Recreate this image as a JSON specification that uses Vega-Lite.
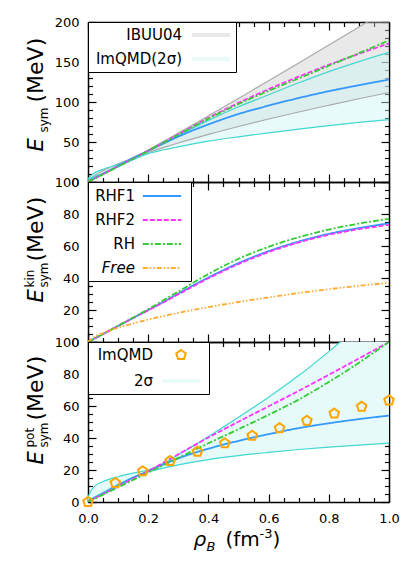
{
"$schema":"https://vega.github.io/schema/vega-lite/v6.json",
"background":"white",
"padding":{"left":23,"top":16,"right":2,"bottom":2},
"spacing":0,
"bounds":"flush",
"config":{
 "view":{"stroke":null},
 "axis":{"grid":false,"labelFont":"DejaVu Sans","labelFontSize":13,"labelColor":"black","titleFont":"DejaVu Sans","titleColor":"black","titleFontWeight":"normal","tickColor":"black","tickWidth":1.2,"domainColor":"black","domainWidth":1.5,"zindex":2,"titleAlign":"left","titleBaseline":"alphabetic","labelFlush":false,"labelOverlap":false,"titlePadding":0},
 "legend":{"orient":"top-left","offset":0,"padding":5,"strokeColor":"black","fillColor":"white","labelFont":"DejaVu Sans","labelFontSize":15,"labelColor":"black","labelAlign":"right","labelLimit":300,"zindex":3}
},
"resolve":{"scale":{"x":"independent","y":"independent","color":"independent","strokeDash":"independent","fill":"independent","shape":"independent","stroke":"independent"}},
"datasets":{
 "gray1":[
  {"rho":0,"lo":0,"hi":0,"band":"IBUU04"},
  {"rho":0.02,"lo":3.6,"hi":7.5,"band":"IBUU04"},
  {"rho":0.05,"lo":9.3,"hi":14.2,"band":"IBUU04"},
  {"rho":0.1,"lo":19.3,"hi":22.9,"band":"IBUU04"},
  {"rho":0.16,"lo":31.6,"hi":31.6,"band":"IBUU04"},
  {"rho":0.2,"lo":36.9,"hi":39.9,"band":"IBUU04"},
  {"rho":0.25,"lo":43.0,"hi":50.5,"band":"IBUU04"},
  {"rho":0.3,"lo":48.8,"hi":61.1,"band":"IBUU04"},
  {"rho":0.35,"lo":54.2,"hi":71.9,"band":"IBUU04"},
  {"rho":0.4,"lo":59.5,"hi":82.7,"band":"IBUU04"},
  {"rho":0.5,"lo":69.4,"hi":104.5,"band":"IBUU04"},
  {"rho":0.6,"lo":78.7,"hi":126.6,"band":"IBUU04"},
  {"rho":0.7,"lo":87.5,"hi":148.8,"band":"IBUU04"},
  {"rho":0.8,"lo":95.9,"hi":171.2,"band":"IBUU04"},
  {"rho":0.9,"lo":104.1,"hi":193.8,"band":"IBUU04"},
  {"rho":1.0,"lo":111.9,"hi":216.5,"band":"IBUU04"}
 ],
 "cyan1":[
  {"rho":0,"lo":3,"hi":4,"band":"ImQMD(2σ)"},
  {"rho":0.01,"lo":5,"hi":8,"band":"ImQMD(2σ)"},
  {"rho":0.02,"lo":6.5,"hi":11,"band":"ImQMD(2σ)"},
  {"rho":0.05,"lo":11,"hi":16,"band":"ImQMD(2σ)"},
  {"rho":0.1,"lo":19,"hi":22,"band":"ImQMD(2σ)"},
  {"rho":0.15,"lo":28,"hi":30.5,"band":"ImQMD(2σ)"},
  {"rho":0.2,"lo":35.5,"hi":39,"band":"ImQMD(2σ)"},
  {"rho":0.25,"lo":40,"hi":48.5,"band":"ImQMD(2σ)"},
  {"rho":0.3,"lo":44,"hi":58,"band":"ImQMD(2σ)"},
  {"rho":0.4,"lo":51,"hi":77,"band":"ImQMD(2σ)"},
  {"rho":0.5,"lo":56.5,"hi":94,"band":"ImQMD(2σ)"},
  {"rho":0.6,"lo":61.5,"hi":109,"band":"ImQMD(2σ)"},
  {"rho":0.7,"lo":66,"hi":124,"band":"ImQMD(2σ)"},
  {"rho":0.8,"lo":70.5,"hi":138,"band":"ImQMD(2σ)"},
  {"rho":0.9,"lo":74.5,"hi":150.5,"band":"ImQMD(2σ)"},
  {"rho":1.0,"lo":78,"hi":162,"band":"ImQMD(2σ)"}
 ],
 "tot":[
  {"rho":0,"RHF1":0.5,"RHF2":0.5,"RH":0.3},
  {"rho":0.02,"RHF1":4.3,"RHF2":4.3,"RH":3.9},
  {"rho":0.05,"RHF1":10.2,"RHF2":10,"RH":9.6},
  {"rho":0.1,"RHF1":20.2,"RHF2":19.8,"RH":19.4},
  {"rho":0.15,"RHF1":30,"RHF2":29.5,"RH":29.1},
  {"rho":0.2,"RHF1":39,"RHF2":39.1,"RH":38.9},
  {"rho":0.25,"RHF1":48,"RHF2":49.2,"RH":49},
  {"rho":0.3,"RHF1":56.8,"RHF2":59.6,"RH":59.1},
  {"rho":0.4,"RHF1":72,"RHF2":80.1,"RH":79.2},
  {"rho":0.5,"RHF1":85,"RHF2":98.9,"RH":97.5},
  {"rho":0.6,"RHF1":95.5,"RHF2":116,"RH":114},
  {"rho":0.7,"RHF1":105,"RHF2":131.7,"RH":129.5},
  {"rho":0.8,"RHF1":113.5,"RHF2":146.5,"RH":145.3},
  {"rho":0.9,"RHF1":121,"RHF2":160.2,"RH":161},
  {"rho":1.0,"RHF1":128,"RHF2":173.2,"RH":177}
 ],
 "kin":[
  {"rho":0,"RHF1":0,"RHF2":0,"RH":0,"Free":0},
  {"rho":0.02,"RHF1":2,"RHF2":2,"RH":2,"Free":3},
  {"rho":0.05,"RHF1":5,"RHF2":5,"RH":5,"Free":5.6},
  {"rho":0.1,"RHF1":10,"RHF2":10,"RH":10.2,"Free":8.9},
  {"rho":0.15,"RHF1":15,"RHF2":15,"RH":15.3,"Free":11.6},
  {"rho":0.2,"RHF1":20,"RHF2":19.8,"RH":20.5,"Free":14},
  {"rho":0.25,"RHF1":25,"RHF2":24.7,"RH":26,"Free":16.2},
  {"rho":0.3,"RHF1":30.3,"RHF2":29.8,"RH":31.5,"Free":18.2},
  {"rho":0.4,"RHF1":40.3,"RHF2":39.8,"RH":42.5,"Free":21.8},
  {"rho":0.5,"RHF1":49.3,"RHF2":48.7,"RH":52,"Free":25},
  {"rho":0.6,"RHF1":56.8,"RHF2":56.2,"RH":59.5,"Free":27.9},
  {"rho":0.7,"RHF1":62.8,"RHF2":62.2,"RH":65.5,"Free":30.6},
  {"rho":0.8,"RHF1":67.6,"RHF2":67,"RH":70.3,"Free":33},
  {"rho":0.9,"RHF1":71.2,"RHF2":70.5,"RH":74,"Free":35.1},
  {"rho":1.0,"RHF1":74.2,"RHF2":73.2,"RH":77,"Free":37}
 ],
 "pot":[
  {"rho":0,"RHF1":0.5,"RHF2":0.5,"RH":0.3},
  {"rho":0.02,"RHF1":2.3,"RHF2":2.3,"RH":1.9},
  {"rho":0.05,"RHF1":5.2,"RHF2":5,"RH":4.6},
  {"rho":0.1,"RHF1":10.3,"RHF2":9.8,"RH":9.2},
  {"rho":0.15,"RHF1":15.2,"RHF2":14.5,"RH":13.8},
  {"rho":0.2,"RHF1":19.3,"RHF2":19.3,"RH":18.4},
  {"rho":0.25,"RHF1":23.5,"RHF2":24.5,"RH":23},
  {"rho":0.3,"RHF1":27.3,"RHF2":29.8,"RH":27.6},
  {"rho":0.4,"RHF1":33.3,"RHF2":40.3,"RH":36.7},
  {"rho":0.5,"RHF1":38.2,"RHF2":50.2,"RH":45.5},
  {"rho":0.6,"RHF1":42.4,"RHF2":59.8,"RH":54.5},
  {"rho":0.7,"RHF1":46.2,"RHF2":69.5,"RH":64},
  {"rho":0.8,"RHF1":49.2,"RHF2":79.5,"RH":75},
  {"rho":0.9,"RHF1":51.8,"RHF2":89.7,"RH":87},
  {"rho":1.0,"RHF1":54,"RHF2":100,"RH":100}
 ],
 "cyan3":[
  {"rho":0,"lo":1,"hi":3,"series":"2σ"},
  {"rho":0.01,"lo":2,"hi":7,"series":"2σ"},
  {"rho":0.02,"lo":3,"hi":9.5,"series":"2σ"},
  {"rho":0.05,"lo":6,"hi":12.8,"series":"2σ"},
  {"rho":0.1,"lo":11,"hi":15.8,"series":"2σ"},
  {"rho":0.15,"lo":15.5,"hi":18,"series":"2σ"},
  {"rho":0.2,"lo":18.8,"hi":20,"series":"2σ"},
  {"rho":0.25,"lo":21.2,"hi":24,"series":"2σ"},
  {"rho":0.3,"lo":23.2,"hi":29.5,"series":"2σ"},
  {"rho":0.4,"lo":26.5,"hi":41,"series":"2σ"},
  {"rho":0.5,"lo":29,"hi":53,"series":"2σ"},
  {"rho":0.6,"lo":31,"hi":65.5,"series":"2σ"},
  {"rho":0.7,"lo":32.8,"hi":79,"series":"2σ"},
  {"rho":0.8,"lo":34.3,"hi":94,"series":"2σ"},
  {"rho":0.9,"lo":35.6,"hi":110,"series":"2σ"},
  {"rho":1.0,"lo":36.8,"hi":126,"series":"2σ"}
 ],
 "imqmd":[
  {"rho":0,"v":0,"series":"ImQMD"},
  {"rho":0.0909,"v":11.9,"series":"ImQMD"},
  {"rho":0.1818,"v":19.2,"series":"ImQMD"},
  {"rho":0.2727,"v":25.6,"series":"ImQMD"},
  {"rho":0.3636,"v":31.5,"series":"ImQMD"},
  {"rho":0.4545,"v":36.7,"series":"ImQMD"},
  {"rho":0.5455,"v":41.4,"series":"ImQMD"},
  {"rho":0.6364,"v":46.2,"series":"ImQMD"},
  {"rho":0.7273,"v":50.8,"series":"ImQMD"},
  {"rho":0.8182,"v":55.3,"series":"ImQMD"},
  {"rho":0.9091,"v":59.6,"series":"ImQMD"},
  {"rho":1.0,"v":63.5,"series":"ImQMD"}
 ]
},
"vconcat":[
 {
  "width":301,"height":160,
  "resolve":{"axis":{"x":"independent","y":"independent"}},
  "layer":[
   {"data":{"name":"gray1"},"mark":{"type":"area","clip":true,"opacity":0.45},
    "encoding":{
     "x":{"field":"rho","type":"quantitative","scale":{"domain":[0,1],"nice":false,"zero":false},"axis":{"orient":"bottom","values":[0,0.2,0.4,0.6,0.8,1],"tickSize":-8,"labels":false,"title":null}},
     "y":{"field":"lo","type":"quantitative","scale":{"domain":[0,200],"nice":false},"axis":{"orient":"left","values":[0,50,100,150,200],"tickSize":-8,"labelPadding":17,"title":"E","titleFontStyle":"italic","titleFontSize":21,"titleX":-46,"titleY":129,"titleAngle":270}},
     "y2":{"field":"hi"},
     "fill":{"field":"band","type":"nominal","scale":{"domain":["IBUU04","ImQMD(2σ)"],"range":["#cfcfcf","#ccf5f5"]},
       "legend":{"title":null,"symbolType":"M-2.4,-0.25H2.4V0.25H-2.4Z","symbolSize":256,"symbolStrokeWidth":0,"labelOffset":-37,"symbolOffset":110,"rowPadding":8}}
    }},
   {"data":{"name":"cyan1"},"mark":{"type":"area","clip":true,"opacity":0.45},
    "encoding":{
     "x":{"field":"rho","type":"quantitative","scale":{"domain":[0,1],"nice":false,"zero":false},"axis":{"orient":"top","values":[0,0.2,0.4,0.6,0.8,1],"tickSize":-8,"labels":false,"title":null}},
     "y":{"field":"lo","type":"quantitative","scale":{"domain":[0,200],"nice":false},"axis":{"orient":"right","values":[0,50,100,150,200],"tickSize":-8,"labels":false,"title":null}},
     "y2":{"field":"hi"},
     "fill":{"field":"band","type":"nominal","legend":{"title":null,"symbolType":"M-2.4,-0.25H2.4V0.25H-2.4Z","symbolSize":256,"symbolStrokeWidth":0,"labelOffset":-37,"symbolOffset":110,"rowPadding":8}}
    }},
   {"data":{"name":"gray1"},"transform":[{"fold":["lo","hi"]}],"mark":{"type":"line","clip":true,"color":"#aaaaaa","strokeWidth":1.2,"interpolate":"monotone"},
    "encoding":{
     "x":{"field":"rho","type":"quantitative","scale":{"domain":[0,1],"nice":false,"zero":false},"axis":{"orient":"bottom","values":[0.05,0.1,0.15,0.25,0.3,0.35,0.45,0.5,0.55,0.65,0.7,0.75,0.85,0.9,0.95],"tickSize":-4.5,"labels":false,"domain":false,"title":null}},
     "y":{"field":"value","type":"quantitative","scale":{"domain":[0,200],"nice":false},"axis":{"orient":"left","values":[10,20,30,40,60,70,80,90,110,120,130,140,160,170,180,190],"tickSize":-4.5,"labels":false,"domain":false,"title":null}},
     "detail":{"field":"key","type":"nominal"}
    }},
   {"data":{"name":"cyan1"},"transform":[{"fold":["lo","hi"]}],"mark":{"type":"line","clip":true,"color":"#40d8d0","strokeWidth":1.2,"interpolate":"monotone"},
    "encoding":{
     "x":{"field":"rho","type":"quantitative","scale":{"domain":[0,1],"nice":false,"zero":false},"axis":{"orient":"top","values":[0.05,0.1,0.15,0.25,0.3,0.35,0.45,0.5,0.55,0.65,0.7,0.75,0.85,0.9,0.95],"tickSize":-4.5,"labels":false,"domain":false,"title":null}},
     "y":{"field":"value","type":"quantitative","scale":{"domain":[0,200],"nice":false},"axis":{"orient":"right","values":[10,20,30,40,60,70,80,90,110,120,130,140,160,170,180,190],"tickSize":-4.5,"labels":false,"domain":false,"title":null}},
     "detail":{"field":"key","type":"nominal"}
    }},
   {"data":{"name":"tot"},"transform":[{"fold":["RHF1","RHF2","RH"],"as":["model","v"]}],"mark":{"type":"line","clip":true,"strokeWidth":1.8,"interpolate":"monotone"},
    "encoding":{
     "x":{"field":"rho","type":"quantitative","scale":{"domain":[0,1],"nice":false,"zero":false},"axis":null},
     "y":{"field":"v","type":"quantitative","scale":{"domain":[0,200],"nice":false},"axis":{"orient":"left","labels":false,"ticks":false,"domain":false,"title":"sym","titleFontSize":12,"titleX":-41,"titleY":110,"titleAngle":270}},
     "color":{"field":"model","type":"nominal","scale":{"domain":["RHF1","RHF2","RH","Free"],"range":["#3399ff","#ff33ff","#33cc33","#ffaa33"]},"legend":null},
     "strokeDash":{"field":"model","type":"nominal","scale":{"domain":["RHF1","RHF2","RH","Free"],"range":[[1,0],[5,2],[6,2,2,2],[5,2,1.5,2,1.5,2]]},"legend":null}
    }},
   {"data":{"name":"tot"},"mark":{"type":"point","opacity":0,"size":1},
    "encoding":{
     "x":{"field":"rho","type":"quantitative","scale":{"domain":[0,1],"nice":false,"zero":false},"axis":null},
     "y":{"field":"RHF1","type":"quantitative","scale":{"domain":[0,200],"nice":false},"axis":{"orient":"left","labels":false,"ticks":false,"domain":false,"title":"(MeV)","titleFontSize":22,"titleX":-46,"titleY":80,"titleAngle":270}}
    }}
  ]
 },
 {
  "width":301,"height":160,
  "resolve":{"axis":{"x":"independent","y":"independent"}},
  "layer":[
   {"data":{"name":"kin"},"transform":[{"fold":["RHF1","RHF2","RH","Free"],"as":["model","v"]}],"mark":{"type":"line","strokeWidth":1.8,"interpolate":"monotone"},
    "encoding":{
     "x":{"field":"rho","type":"quantitative","scale":{"domain":[0,1],"nice":false,"zero":false},"axis":{"orient":"bottom","values":[0,0.2,0.4,0.6,0.8,1],"tickSize":-8,"labels":false,"title":null}},
     "y":{"field":"v","type":"quantitative","scale":{"domain":[0,100],"nice":false},"axis":{"orient":"left","values":[0,20,40,60,80,100],"tickSize":-8,"labelPadding":17,"title":"E","titleFontStyle":"italic","titleFontSize":21,"titleX":-46,"titleY":120,"titleAngle":270}},
     "color":{"field":"model","type":"nominal","scale":{"domain":["RHF1","RHF2","RH","Free"],"range":["#3399ff","#ff33ff","#33cc33","#ffaa33"]},
       "legend":{"title":null,"symbolType":"M-2.4,0H2.4","symbolSize":256,"symbolStrokeWidth":2,"labelOffset":-36,"symbolOffset":60,"rowPadding":7,"encode":{"labels":{"update":{"fontStyle":{"signal":"datum.label == 'Free' ? 'italic' : 'normal'"}}}}}},
     "strokeDash":{"field":"model","type":"nominal","scale":{"domain":["RHF1","RHF2","RH","Free"],"range":[[1,0],[5,2],[6,2,2,2],[5,2,1.5,2,1.5,2]]},
       "legend":{"title":null,"symbolType":"M-2.4,0H2.4","symbolSize":256,"symbolStrokeWidth":2,"labelOffset":-36,"symbolOffset":60,"rowPadding":7,"encode":{"labels":{"update":{"fontStyle":{"signal":"datum.label == 'Free' ? 'italic' : 'normal'"}}}}}}
    }},
   {"data":{"name":"kin"},"mark":{"type":"point","opacity":0,"size":1},
    "encoding":{
     "x":{"field":"rho","type":"quantitative","scale":{"domain":[0,1],"nice":false,"zero":false},"axis":{"orient":"top","values":[0,0.2,0.4,0.6,0.8,1],"tickSize":-8,"labels":false,"title":null}},
     "y":{"field":"RHF1","type":"quantitative","scale":{"domain":[0,100],"nice":false},"axis":{"orient":"right","values":[0,20,40,60,80,100],"tickSize":-8,"labels":false,"title":null}}
    }},
   {"data":{"name":"kin"},"mark":{"type":"point","opacity":0,"size":1},
    "encoding":{
     "x":{"field":"rho","type":"quantitative","scale":{"domain":[0,1],"nice":false,"zero":false},"axis":{"orient":"bottom","values":[0.05,0.1,0.15,0.25,0.3,0.35,0.45,0.5,0.55,0.65,0.7,0.75,0.85,0.9,0.95],"tickSize":-4.5,"labels":false,"domain":false,"title":null}},
     "y":{"field":"RHF1","type":"quantitative","scale":{"domain":[0,100],"nice":false},"axis":{"orient":"left","values":[5,10,15,25,30,35,45,50,55,65,70,75,85,90,95],"tickSize":-4.5,"labels":false,"domain":false,"title":null}}
    }},
   {"data":{"name":"kin"},"mark":{"type":"point","opacity":0,"size":1},
    "encoding":{
     "x":{"field":"rho","type":"quantitative","scale":{"domain":[0,1],"nice":false,"zero":false},"axis":{"orient":"top","values":[0.05,0.1,0.15,0.25,0.3,0.35,0.45,0.5,0.55,0.65,0.7,0.75,0.85,0.9,0.95],"tickSize":-4.5,"labels":false,"domain":false,"title":null}},
     "y":{"field":"RHF1","type":"quantitative","scale":{"domain":[0,100],"nice":false},"axis":{"orient":"right","values":[5,10,15,25,30,35,45,50,55,65,70,75,85,90,95],"tickSize":-4.5,"labels":false,"domain":false,"title":null}}
    }},
   {"data":{"name":"kin"},"mark":{"type":"point","opacity":0,"size":1},
    "encoding":{
     "x":{"field":"rho","type":"quantitative","scale":{"domain":[0,1],"nice":false,"zero":false},"axis":null},
     "y":{"field":"RHF1","type":"quantitative","scale":{"domain":[0,100],"nice":false},"axis":{"orient":"left","labels":false,"ticks":false,"domain":false,"title":"sym","titleFontSize":12,"titleX":-41,"titleY":105,"titleAngle":270}}
    }},
   {"data":{"name":"kin"},"mark":{"type":"point","opacity":0,"size":1},
    "encoding":{
     "x":{"field":"rho","type":"quantitative","scale":{"domain":[0,1],"nice":false,"zero":false},"axis":null},
     "y":{"field":"RHF1","type":"quantitative","scale":{"domain":[0,100],"nice":false},"axis":{"orient":"left","labels":false,"ticks":false,"domain":false,"title":"kin","titleFontSize":12,"titleX":-55,"titleY":105,"titleAngle":270}}
    }},
   {"data":{"name":"kin"},"mark":{"type":"point","opacity":0,"size":1},
    "encoding":{
     "x":{"field":"rho","type":"quantitative","scale":{"domain":[0,1],"nice":false,"zero":false},"axis":null},
     "y":{"field":"RHF1","type":"quantitative","scale":{"domain":[0,100],"nice":false},"axis":{"orient":"left","labels":false,"ticks":false,"domain":false,"title":"(MeV)","titleFontSize":22,"titleX":-46,"titleY":79,"titleAngle":270}}
    }}
  ]
 },
 {
  "width":301,"height":160,
  "resolve":{"axis":{"x":"independent","y":"independent"}},
  "layer":[
   {"data":{"name":"cyan3"},"mark":{"type":"area","clip":true},
    "encoding":{
     "x":{"field":"rho","type":"quantitative","scale":{"domain":[0,1],"nice":false,"zero":false},"axis":{"orient":"bottom","values":[0,0.2,0.4,0.6,0.8,1],"tickSize":-8,"format":".1f","labelPadding":18,"title":"ρ","titleFontStyle":"italic","titleFontSize":20,"titleX":105,"titleY":43,"titleAngle":0}},
     "y":{"field":"lo","type":"quantitative","scale":{"domain":[0,100],"nice":false},"axis":{"orient":"left","values":[0,20,40,60,80,100],"tickSize":-8,"labelPadding":17,"title":"E","titleFontStyle":"italic","titleFontSize":21,"titleX":-46,"titleY":122,"titleAngle":270}},
     "y2":{"field":"hi"},
     "fill":{"field":"series","type":"nominal","scale":{"domain":["ImQMD","2σ"],"range":["rgba(255,255,255,0)","#e6fafa"]},
       "legend":{"title":null,"symbolSize":196,"symbolStrokeWidth":2,"labelOffset":-36,"symbolOffset":80,"rowPadding":9}}
    }},
   {"data":{"name":"cyan3"},"transform":[{"fold":["lo","hi"]}],"mark":{"type":"line","clip":true,"color":"#40d8d0","strokeWidth":1.2,"interpolate":"monotone"},
    "encoding":{
     "x":{"field":"rho","type":"quantitative","scale":{"domain":[0,1],"nice":false,"zero":false},"axis":{"orient":"top","values":[0,0.2,0.4,0.6,0.8,1],"tickSize":-8,"labels":false,"title":null}},
     "y":{"field":"value","type":"quantitative","scale":{"domain":[0,100],"nice":false},"axis":{"orient":"right","values":[0,20,40,60,80,100],"tickSize":-8,"labels":false,"title":null}},
     "detail":{"field":"key","type":"nominal"}
    }},
   {"data":{"name":"pot"},"transform":[{"fold":["RHF1","RHF2","RH"],"as":["model","v"]}],"mark":{"type":"line","clip":true,"strokeWidth":1.8,"interpolate":"monotone"},
    "encoding":{
     "x":{"field":"rho","type":"quantitative","scale":{"domain":[0,1],"nice":false,"zero":false},"axis":{"orient":"bottom","values":[0.05,0.1,0.15,0.25,0.3,0.35,0.45,0.5,0.55,0.65,0.7,0.75,0.85,0.9,0.95],"tickSize":-4.5,"labels":false,"domain":false,"title":null}},
     "y":{"field":"v","type":"quantitative","scale":{"domain":[0,100],"nice":false},"axis":{"orient":"left","values":[5,10,15,25,30,35,45,50,55,65,70,75,85,90,95],"tickSize":-4.5,"labels":false,"domain":false,"title":null}},
     "color":{"field":"model","type":"nominal","scale":{"domain":["RHF1","RHF2","RH","Free"],"range":["#3399ff","#ff33ff","#33cc33","#ffaa33"]},"legend":null},
     "strokeDash":{"field":"model","type":"nominal","scale":{"domain":["RHF1","RHF2","RH","Free"],"range":[[1,0],[5,2],[6,2,2,2],[5,2,1.5,2,1.5,2]]},"legend":null}
    }},
   {"data":{"name":"imqmd"},"mark":{"type":"point","filled":true,"size":196,"strokeWidth":2,"opacity":1},
    "encoding":{
     "x":{"field":"rho","type":"quantitative","scale":{"domain":[0,1],"nice":false,"zero":false},"axis":{"orient":"top","values":[0.05,0.1,0.15,0.25,0.3,0.35,0.45,0.5,0.55,0.65,0.7,0.75,0.85,0.9,0.95],"tickSize":-4.5,"labels":false,"domain":false,"title":null}},
     "y":{"field":"v","type":"quantitative","scale":{"domain":[0,100],"nice":false},"axis":{"orient":"right","values":[5,10,15,25,30,35,45,50,55,65,70,75,85,90,95],"tickSize":-4.5,"labels":false,"domain":false,"title":null}},
     "fill":{"field":"series","type":"nominal","legend":{"title":null,"symbolSize":196,"symbolStrokeWidth":2,"labelOffset":-36,"symbolOffset":80,"rowPadding":9}},
     "stroke":{"field":"series","type":"nominal","scale":{"domain":["ImQMD","2σ"],"range":["#ffa500","rgba(255,255,255,0)"]},"legend":{"title":null,"symbolSize":196,"symbolStrokeWidth":2,"labelOffset":-36,"symbolOffset":80,"rowPadding":9}},
     "shape":{"field":"series","type":"nominal","scale":{"domain":["ImQMD","2σ"],"range":["M0,-0.714L0.679,-0.221L0.42,0.578L-0.42,0.578L-0.679,-0.221Z","M-2.714,-0.25H2.714V0.25H-2.714Z"]},"legend":{"title":null,"symbolSize":196,"symbolStrokeWidth":2,"labelOffset":-36,"symbolOffset":80,"rowPadding":9}}
    }},
   {"data":{"name":"pot"},"mark":{"type":"point","opacity":0,"size":1},
    "encoding":{
     "x":{"field":"rho","type":"quantitative","scale":{"domain":[0,1],"nice":false,"zero":false},"axis":{"orient":"bottom","labels":false,"ticks":false,"domain":false,"title":"B","titleFontStyle":"italic","titleFontSize":13,"titleX":118,"titleY":48,"titleAngle":0}},
     "y":{"field":"RHF1","type":"quantitative","scale":{"domain":[0,100],"nice":false},"axis":{"orient":"left","labels":false,"ticks":false,"domain":false,"title":"sym","titleFontSize":12,"titleX":-41,"titleY":105,"titleAngle":270}}
    }},
   {"data":{"name":"pot"},"mark":{"type":"point","opacity":0,"size":1},
    "encoding":{
     "x":{"field":"rho","type":"quantitative","scale":{"domain":[0,1],"nice":false,"zero":false},"axis":{"orient":"bottom","labels":false,"ticks":false,"domain":false,"title":"(fm","titleFontSize":20,"titleX":137,"titleY":43,"titleAngle":0}},
     "y":{"field":"RHF1","type":"quantitative","scale":{"domain":[0,100],"nice":false},"axis":{"orient":"left","labels":false,"ticks":false,"domain":false,"title":"pot","titleFontSize":12,"titleX":-55,"titleY":105,"titleAngle":270}}
    }},
   {"data":{"name":"pot"},"mark":{"type":"point","opacity":0,"size":1},
    "encoding":{
     "x":{"field":"rho","type":"quantitative","scale":{"domain":[0,1],"nice":false,"zero":false},"axis":{"orient":"bottom","labels":false,"ticks":false,"domain":false,"title":"-3","titleFontSize":13,"titleX":171,"titleY":35,"titleAngle":0}},
     "y":{"field":"RHF1","type":"quantitative","scale":{"domain":[0,100],"nice":false},"axis":{"orient":"left","labels":false,"ticks":false,"domain":false,"title":"(MeV)","titleFontSize":22,"titleX":-46,"titleY":78,"titleAngle":270}}
    }},
   {"data":{"name":"pot"},"mark":{"type":"point","opacity":0,"size":1},
    "encoding":{
     "x":{"field":"rho","type":"quantitative","scale":{"domain":[0,1],"nice":false,"zero":false},"axis":{"orient":"bottom","labels":false,"ticks":false,"domain":false,"title":")","titleFontSize":20,"titleX":184,"titleY":43,"titleAngle":0}},
     "y":{"field":"RHF1","type":"quantitative","scale":{"domain":[0,100],"nice":false},"axis":null}
    }}
  ]
 }
]
}
